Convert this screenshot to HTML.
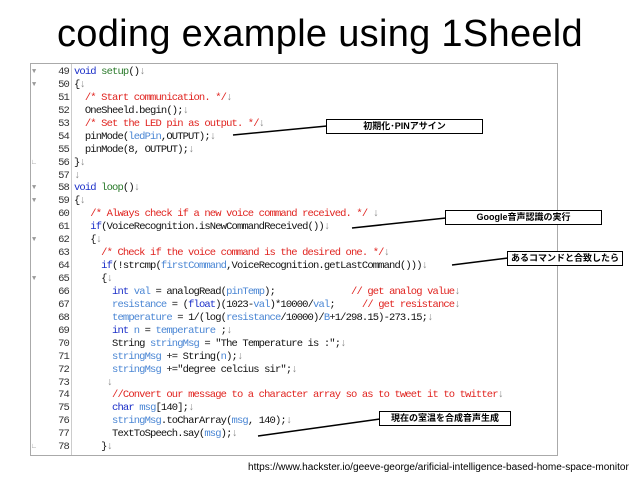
<!DOCTYPE html>
<html><head><meta charset="utf-8"><style>
body{margin:0;width:640px;height:480px;background:#fff;position:relative;overflow:hidden;font-family:"Liberation Sans","Noto Sans CJK JP",sans-serif}
.title{position:absolute;left:0;width:640px;top:12px;text-align:center;font-size:38px;color:#000;line-height:44px;letter-spacing:0.3px}
.frame{position:absolute;left:30px;top:63px;width:526px;height:391px;border:1px solid #aaa;background:#fff}
.sep{position:absolute;left:71px;top:64px;width:1px;height:391px;background:#ccc}
pre{margin:0;position:absolute;font-family:"Liberation Mono",monospace;font-size:10.5px;letter-spacing:-0.87px;line-height:12.93px}
.nums{left:42px;top:66px;width:27px;text-align:right;color:#333}
.fold{left:32px;top:66px;color:#999;font-size:7px;letter-spacing:0}
.code{left:74px;top:66px;color:#111}
.k{color:#1b2fc8}.f{color:#2a7a2a}.v{color:#4a86d4}.c{color:#e0231f}.a{color:#888}
.box{position:absolute;border:1.5px solid #000;background:#fff;font-size:9px;font-weight:bold;text-align:center;line-height:13px;height:13px}
.url{position:absolute;left:248px;top:462px;font-size:10.05px;color:#000;white-space:nowrap}
</style></head><body>
<div class="title">coding example using 1Sheeld</div>
<div class="frame"></div>
<div class="sep"></div>
<pre class="fold">▼
▼





∟

▼
▼


▼


▼












∟</pre>
<pre class="nums">49
50
51
52
53
54
55
56
57
58
59
60
61
62
63
64
65
66
67
68
69
70
71
72
73
74
75
76
77
78</pre>
<pre class="code"><span class="k">void</span> <span class="f">setup</span>()<span class="a">↓</span>
{<span class="a">↓</span>
  <span class="c">/* Start communication. */</span><span class="a">↓</span>
  OneSheeld.begin();<span class="a">↓</span>
  <span class="c">/* Set the LED pin as output. */</span><span class="a">↓</span>
  pinMode(<span class="v">ledPin</span>,OUTPUT);<span class="a">↓</span>
  pinMode(8, OUTPUT);<span class="a">↓</span>
}<span class="a">↓</span>
<span class="a">↓</span>
<span class="k">void</span> <span class="f">loop</span>()<span class="a">↓</span>
{<span class="a">↓</span>
   <span class="c">/* Always check if a new voice command received. */</span> <span class="a">↓</span>
   <span class="k">if</span>(VoiceRecognition.isNewCommandReceived())<span class="a">↓</span>
   {<span class="a">↓</span>
     <span class="c">/* Check if the voice command is the desired one. */</span><span class="a">↓</span>
     <span class="k">if</span>(!strcmp(<span class="v">firstCommand</span>,VoiceRecognition.getLastCommand()))<span class="a">↓</span>
     {<span class="a">↓</span>
       <span class="k">int</span> <span class="v">val</span> = analogRead(<span class="v">pinTemp</span>);              <span class="c">// get analog value</span><span class="a">↓</span>
       <span class="v">resistance</span> = (<span class="k">float</span>)(1023-<span class="v">val</span>)*10000/<span class="v">val</span>;     <span class="c">// get resistance</span><span class="a">↓</span>
       <span class="v">temperature</span> = 1/(log(<span class="v">resistance</span>/10000)/<span class="v">B</span>+1/298.15)-273.15;<span class="a">↓</span>
       <span class="k">int</span> <span class="v">n</span> = <span class="v">temperature</span> ;<span class="a">↓</span>
       String <span class="v">stringMsg</span> = "The Temperature is :";<span class="a">↓</span>
       <span class="v">stringMsg</span> += String(<span class="v">n</span>);<span class="a">↓</span>
       <span class="v">stringMsg</span> +="degree celcius sir";<span class="a">↓</span>
      <span class="a">↓</span>
       <span class="c">//Convert our message to a character array so as to tweet it to twitter</span><span class="a">↓</span>
       <span class="k">char</span> <span class="v">msg</span>[140];<span class="a">↓</span>
       <span class="v">stringMsg</span>.toCharArray(<span class="v">msg</span>, 140);<span class="a">↓</span>
       TextToSpeech.say(<span class="v">msg</span>);<span class="a">↓</span>
     }<span class="a">↓</span></pre>
<svg style="position:absolute;left:0;top:0" width="640" height="480">
<g stroke="#000" stroke-width="1.5">
<line x1="233" y1="135" x2="327" y2="126"/>
<line x1="352" y1="228" x2="446" y2="218"/>
<line x1="452" y1="265" x2="508" y2="258"/>
<line x1="258" y1="436" x2="380" y2="419"/>
</g></svg>
<div class="box" style="left:326px;top:119px;width:155px">初期化･PINアサイン</div>
<div class="box" style="left:445px;top:210px;width:155px">Google音声認識の実行</div>
<div class="box" style="left:507px;top:251px;width:114px">あるコマンドと合致したら</div>
<div class="box" style="left:379px;top:411px;width:130px">現在の室温を合成音声生成</div>
<div class="url">https://www.hackster.io/geeve-george/arificial-intelligence-based-home-space-monitor</div>
</body></html>
